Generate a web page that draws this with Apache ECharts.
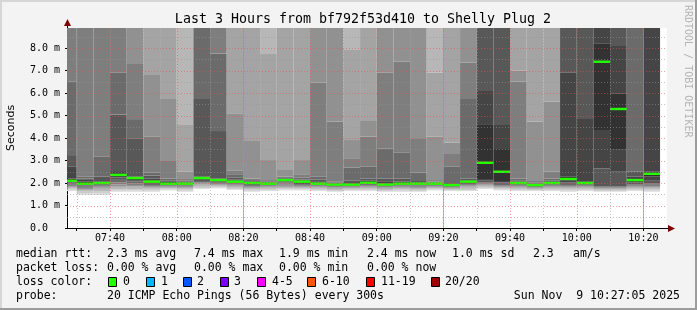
<!DOCTYPE html>
<html><head><meta charset="utf-8">
<script src="https://cdn.jsdelivr.net/npm/echarts@6/dist/echarts.min.js"></script>
<style>html,body{margin:0;padding:0;background:#f3f3f3}#c{width:697px;height:310px}</style>
</head><body><div id="c"></div>
<script>
// ---------- data ----------
const titleText = 'Last 3 Hours from bf792f53d410 to Shelly Plug 2';
const startTime = '07:27:05';
const endTime = '10:27:05';
const stepMinutes = 5;
const times = ['07:30','07:35','07:40','07:45','07:50','07:55','08:00','08:05','08:10','08:15','08:20','08:25','08:30','08:35','08:40','08:45','08:50','08:55','09:00','09:05','09:10','09:15','09:20','09:25','09:30','09:35','09:40','09:45','09:50','09:55','10:00','10:05','10:10','10:15','10:20','10:25'];
const medians = [2.10,1.97,2.00,2.36,2.22,2.06,1.97,1.97,2.22,2.13,2.06,2.00,1.97,2.13,2.06,1.97,1.93,1.93,2.01,1.93,1.97,1.97,1.97,1.91,2.06,2.90,2.50,2.00,1.91,2.00,2.18,2.00,7.39,5.29,2.13,2.41];
const lossPerStep = [0,0,0,0,0,0,0,0,0,0,0,0,0,0,0,0,0,0,0,0,0,0,0,0,0,0,0,0,0,0,0,0,0,0,0,0];
// 20 sorted ping rtts (ms) per step
const pings = [
 [1.64,1.70,1.75,1.79,1.83,1.87,1.92,1.97,2.02,2.07,2.20,2.72,3.24,6.50,9.6,11.2,12.8,15.1,19.4,27.0],
 [1.47,1.55,1.62,1.68,1.73,1.78,1.83,1.88,1.92,1.95,2.06,2.14,2.20,2.28,9.3,10.7,12.9,16.2,21.5,33.0],
 [1.47,1.56,1.63,1.70,1.75,1.80,1.85,1.90,1.94,1.98,2.06,2.13,2.28,3.17,9.8,11.4,13.6,17.0,22.8,30.5],
 [1.61,1.66,1.72,1.79,1.86,1.94,2.02,2.14,2.25,2.32,2.40,2.53,5.05,6.90,9.5,10.9,12.6,15.8,20.3,28.7],
 [1.61,1.67,1.73,1.79,1.85,1.91,1.98,2.06,2.13,2.19,2.25,2.28,3.99,4.84,7.29,9.7,11.8,14.4,19.0,26.2],
 [1.61,1.66,1.71,1.76,1.81,1.86,1.91,1.96,2.00,2.04,2.10,2.20,2.33,2.47,4.06,6.80,10.1,12.5,16.3,24.0],
 [1.67,1.71,1.75,1.78,1.81,1.84,1.87,1.90,1.93,1.95,2.00,2.05,2.12,2.20,2.98,5.73,9.4,11.7,15.2,22.6],
 [1.61,1.66,1.71,1.75,1.79,1.83,1.87,1.90,1.93,1.95,1.99,2.02,2.05,2.10,2.18,2.50,4.58,10.3,13.9,20.1],
 [1.73,1.78,1.83,1.88,1.93,1.98,2.03,2.09,2.14,2.19,2.25,2.28,5.73,9.2,10.6,12.3,14.7,18.2,23.9,31.4],
 [1.76,1.80,1.84,1.88,1.92,1.96,2.00,2.04,2.08,2.11,2.16,2.20,4.31,7.76,9.9,11.5,13.8,17.4,22.1,29.6],
 [1.69,1.73,1.77,1.81,1.85,1.89,1.93,1.97,2.01,2.04,2.10,2.16,2.25,2.39,2.55,5.10,9.6,12.2,16.8,25.3],
 [1.61,1.66,1.71,1.75,1.79,1.83,1.87,1.91,1.95,1.98,2.01,2.04,2.08,2.13,2.20,3.87,9.4,11.9,15.5,23.1],
 [1.64,1.68,1.72,1.76,1.80,1.84,1.87,1.90,1.93,1.95,1.98,2.00,2.03,2.08,2.13,3.02,7.73,10.4,14.2,21.7],
 [1.67,1.72,1.77,1.82,1.87,1.92,1.97,2.02,2.07,2.11,2.15,2.16,2.18,2.22,2.28,2.58,9.5,12.0,16.1,24.4],
 [1.67,1.71,1.75,1.79,1.83,1.87,1.91,1.95,2.00,2.04,2.09,2.12,2.16,2.25,2.39,3.02,9.8,12.4,17.0,25.9],
 [1.64,1.68,1.72,1.76,1.80,1.84,1.87,1.90,1.93,1.95,2.02,2.08,2.16,2.28,6.47,9.3,10.8,13.5,18.6,27.2],
 [1.61,1.65,1.69,1.73,1.77,1.80,1.83,1.86,1.89,1.91,1.96,1.99,2.02,2.06,4.73,9.6,11.3,14.0,19.2,28.4],
 [1.64,1.68,1.72,1.75,1.78,1.81,1.84,1.87,1.89,1.91,1.96,2.00,2.10,2.68,3.07,3.91,7.94,10.2,13.6,20.8],
 [1.64,1.68,1.72,1.76,1.80,1.84,1.88,1.92,1.96,1.99,2.04,2.10,2.20,2.72,4.06,4.76,9.7,12.6,17.3,26.5],
 [1.61,1.65,1.69,1.73,1.77,1.80,1.83,1.86,1.89,1.91,1.97,2.05,2.20,3.54,6.90,9.4,11.1,13.9,18.8,27.7],
 [1.61,1.66,1.71,1.75,1.79,1.83,1.86,1.89,1.92,1.95,2.00,2.06,2.20,3.35,7.39,9.8,11.6,14.3,19.5,29.0],
 [1.61,1.65,1.70,1.74,1.78,1.82,1.86,1.89,1.92,1.95,2.00,2.03,2.09,2.46,3.96,9.2,10.9,13.1,17.7,25.4],
 [1.67,1.71,1.75,1.78,1.81,1.84,1.87,1.90,1.93,1.95,1.99,2.00,2.02,2.06,2.13,4.06,6.90,10.6,14.8,22.3],
 [1.64,1.67,1.70,1.73,1.76,1.79,1.82,1.85,1.87,1.89,1.93,1.96,2.00,2.72,3.29,3.79,9.9,12.7,17.6,26.8],
 [1.64,1.69,1.74,1.79,1.84,1.88,1.92,1.96,2.00,2.04,2.08,2.12,2.20,5.73,7.35,9.5,11.2,13.7,18.4,27.9],
 [1.73,1.77,1.81,1.85,1.89,1.93,1.97,2.03,2.10,2.18,4.58,6.09,9.1,10.4,12.1,14.6,18.1,23.5,29.0,36.4],
 [1.67,1.71,1.75,1.79,1.83,1.87,1.91,1.96,2.02,2.09,3.51,4.58,9.3,10.8,12.7,15.3,19.1,24.7,30.2,38.0],
 [1.64,1.68,1.72,1.76,1.80,1.84,1.88,1.92,1.95,1.98,2.03,2.07,2.12,2.20,6.50,6.99,9.6,12.3,16.9,25.0],
 [1.64,1.67,1.70,1.73,1.76,1.79,1.82,1.85,1.87,1.89,1.93,1.96,1.99,2.03,2.09,4.73,9.4,11.8,15.9,23.8],
 [1.64,1.68,1.72,1.76,1.80,1.84,1.88,1.92,1.95,1.98,2.02,2.05,2.10,2.20,2.50,5.61,9.7,12.1,16.4,24.6],
 [1.61,1.66,1.71,1.76,1.81,1.86,1.91,1.96,2.02,2.10,2.28,6.90,9.2,10.5,12.0,14.1,16.9,20.7,26.3,34.8],
 [1.64,1.68,1.72,1.76,1.80,1.84,1.87,1.90,1.94,1.97,2.06,4.84,9.3,10.7,12.4,14.5,17.5,21.4,27.1,35.9],
 [1.61,1.65,1.69,1.72,1.75,1.78,1.81,1.84,2.65,4.36,8.21,9.1,10.3,11.8,13.7,16.2,19.6,24.3,30.8,39.5],
 [1.61,1.65,1.69,1.72,1.75,1.78,1.81,1.84,2.50,3.51,5.99,8.09,9.4,10.9,12.8,15.3,18.7,23.2,29.4,37.6],
 [1.64,1.68,1.72,1.76,1.80,1.84,1.88,1.93,2.02,2.10,2.18,2.28,2.50,9.2,10.6,12.4,14.9,18.3,23.0,30.1],
 [1.61,1.66,1.71,1.76,1.81,1.86,1.92,1.99,2.10,2.30,2.50,9.1,10.2,11.6,13.4,15.8,19.0,23.5,29.7,38.2]
];
const yMax = 8.89;
const yTicks = [0,1,2,3,4,5,6,7,8];
const xLabelTimes = ['07:40','08:00','08:20','08:40','09:00','09:20','09:40','10:00','10:20'];
const xMinorTimes = ['07:30','07:50','08:10','08:30','08:50','09:10','09:30','09:50','10:10'];
const xHourLines = ['08:20','09:20','10:20'];
const lossLabels = ['0','1','2','3','4-5','6-10','11-19','20/20'];
const lossColors = ['#26ff00','#00b8ff','#0059ff','#7e00ff','#ff00ff','#ff5500','#ff0000','#a10000'];
const rttStats = ['2.3 ms avg','7.4 ms max','1.9 ms min','2.4 ms now','1.0 ms sd','2.3','am/s'];
const lossStats = ['0.00 % avg','0.00 % max','0.00 % min','0.00 % now'];
const probeText = '20 ICMP Echo Pings (56 Bytes) every 300s';
const dateText = 'Sun Nov  9 10:27:05 2025';

// ---------- helpers ----------
function toMin(s){const p=s.split(':').map(Number);return p[0]*60+p[1]+(p[2]||0)/60;}
const X_MIN = toMin(startTime), X_MAX = toMin(endTime);
const MONO = '"DejaVu Sans Mono", monospace';

const smokeData = times.map((t,i)=>[toMin(t)-stepMinutes,toMin(t)].concat(pings[i]));
const medianData = times.map((t,i)=>[toMin(t)-stepMinutes,toMin(t),medians[i],lossPerStep[i]]);
// grid: [kind, value]  kind 0 h-minor,1 h-major,2 v-minor,3 v-major,4 v-hour
const gridData = [];
for (let k=1;k<=17;k++){ const v=k/2; gridData.push([v%1===0?1:0, v]); }
xMinorTimes.forEach(t=>gridData.push([2,toMin(t)]));
xLabelTimes.forEach(t=>gridData.push([3,toMin(t)]));
xHourLines.forEach(t=>gridData.push([4,toMin(t)]));

function clipRect(r, cs){
  return echarts.graphic.clipRectByRect(r,{x:cs.x,y:cs.y,width:cs.width,height:cs.height});
}
function renderSmoke(params, api){
  const t0=api.value(0), t1=api.value(1);
  const children=[];
  for (let j=1;j<20;j++){
    const lo=api.value(j+1), hi=api.value(j+2);
    if (hi<=lo) continue;
    const a=api.coord([t0,hi]), b=api.coord([t1,lo]);
    const r=clipRect({x:a[0],y:a[1],width:b[0]-a[0],height:b[1]-a[1]},params.coordSys);
    if(!r) continue;
    const ibot=Math.min(j,20-j);
    const g=Math.floor(190/10*(10-ibot))+50;
    const c='rgb('+g+','+g+','+g+')';
    children.push({type:'rect',shape:r,style:{fill:c}});
  }
  return {type:'group',children};
}
function renderMedian(params, api){
  const t0=api.value(0), t1=api.value(1), m=api.value(2);
  const a=api.coord([t0,m]), b=api.coord([t1,m]);
  const r=clipRect({x:a[0],y:a[1]-1.2,width:b[0]-a[0],height:2.4},params.coordSys);
  if(!r) return null;
  return {type:'rect',shape:r,style:{fill:lossColors[api.value(3)]}};
}
function renderGrid(params, api){
  const kind=api.value(0), v=api.value(1), cs=params.coordSys;
  let x1,y1,x2,y2;
  if (kind<2){ const p=api.coord([X_MIN,v]); y1=y2=Math.round(p[1])+0.5; x1=cs.x; x2=cs.x+cs.width; }
  else { const p=api.coord([v,0]); x1=x2=Math.round(p[0])+0.5; y1=cs.y; y2=cs.y+cs.height; }
  let stroke, dash;
  if (kind===0||kind===2){ stroke='rgba(150,150,150,0.55)'; dash=[1,2]; }
  else if (kind===1||kind===3){ stroke='rgba(235,80,80,0.55)'; dash=[1,2]; }
  else { stroke='rgba(255,90,90,0.6)'; dash=null; }
  return {type:'line',shape:{x1,y1,x2,y2},style:{stroke,lineWidth:1,lineDash:dash}};
}

// legend graphics
const gfx=[];
function txt(x,y,text,size,opt){ gfx.push(Object.assign({type:'text',x,y,style:{text,font:size+'px '+MONO,fill:'#000',align:'left',verticalAlign:'middle'}},opt||{})); }
const LF=11.5;
txt(16,254,'median rtt:',LF);
[107,194,279,367,452,533,573].forEach((x,i)=>txt(x,254,rttStats[i],LF));
txt(16,268,'packet loss:',LF);
[107,194,279,367].forEach((x,i)=>txt(x,268,lossStats[i],LF));
txt(16,282,'loss color:',LF);
const swX=[108,146,183,220,257,307,366,431];
const lbX=[123,161,197,234,272,322,381,445];
lossLabels.forEach((l,i)=>{
  gfx.push({type:'rect',shape:{x:swX[i]+0.5,y:277.5,width:8,height:9},style:{fill:lossColors[i],stroke:'#000',lineWidth:1}});
  txt(lbX[i],282,l,LF);
});
txt(16,296,'probe:',LF);
txt(107,296,probeText,LF);
gfx.push({type:'text',x:680,y:296,style:{text:dateText,font:LF+'px '+MONO,fill:'#000',align:'right',verticalAlign:'middle'}});
// title
gfx.push({type:'text',x:363,y:20,style:{text:titleText,font:'13.3px '+MONO,fill:'#000',align:'center',verticalAlign:'middle'}});
// watermark
gfx.push({type:'text',x:688,y:5,rotation:-Math.PI/2,style:{text:'RRDTOOL / TOBI OETIKER',font:'10px '+MONO,fill:'#b4b4b4',align:'left',verticalAlign:'middle'}});
// axis extensions & arrows
gfx.push({type:'line',shape:{x1:67.5,y1:28,x2:67.5,y2:22},style:{stroke:'#000',lineWidth:1}});
gfx.push({type:'line',shape:{x1:667,y1:228.5,x2:670,y2:228.5},style:{stroke:'#000',lineWidth:1}});
gfx.push({type:'polygon',shape:{points:[[64,26],[71,26],[67.5,19]]},style:{fill:'#7f0000'}});
gfx.push({type:'polygon',shape:{points:[[668,225],[668,232],[675,228.5]]},style:{fill:'#7f0000'}});
// frame
gfx.push({type:'rect',shape:{x:0,y:0,width:697,height:2},style:{fill:'#d6d6d6'},z:-1});
gfx.push({type:'rect',shape:{x:0,y:0,width:2,height:310},style:{fill:'#d6d6d6'},z:-1});
gfx.push({type:'rect',shape:{x:695,y:0,width:2,height:310},style:{fill:'#9c9c9c'},z:-1});
gfx.push({type:'rect',shape:{x:0,y:308,width:697,height:2},style:{fill:'#9c9c9c'},z:-1});

const chart=echarts.init(document.getElementById('c'),null,{renderer:'canvas'});
chart.setOption({
  animation:false,
  backgroundColor:'#f3f3f3',
  grid:{left:67,top:28,width:600,height:200,show:true,backgroundColor:'#ffffff',borderWidth:0,containLabel:false,outerBoundsMode:'none'},
  xAxis:{type:'value',min:X_MIN,max:X_MAX,
    axisLine:{show:true,onZero:false,lineStyle:{color:'#000',width:1}},
    axisTick:{show:true,length:3,lineStyle:{color:'#000'},customValues:xMinorTimes.concat(xLabelTimes).map(toMin)},
    axisLabel:{customValues:xLabelTimes.map(toMin),margin:5,fontFamily:'DejaVu Sans Mono',fontSize:10,color:'#000',
      formatter:v=>{const h=Math.floor(v/60),m=Math.round(v-h*60);return String(h).padStart(2,'0')+':'+String(m).padStart(2,'0');}},
    splitLine:{show:false}},
  yAxis:{type:'value',min:0,max:yMax,
    name:'Seconds',nameLocation:'middle',nameGap:50,nameTextStyle:{fontFamily:'DejaVu Sans',fontSize:11,color:'#000'},
    axisLine:{show:true,lineStyle:{color:'#000',width:1}},
    axisTick:{show:true,length:2,customValues:yTicks,lineStyle:{color:'#000'}},
    axisLabel:{customValues:yTicks,align:'left',margin:37,fontFamily:'DejaVu Sans Mono',fontSize:10,color:'#000',
      formatter:v=>v===0?'0.0':v.toFixed(1)+' m'},
    splitLine:{show:false}},
  series:[
    {type:'custom',name:'smoke',data:smokeData,renderItem:renderSmoke,clip:true,z:2,encode:{x:[0,1],y:[2]}},
    {type:'custom',name:'median',data:medianData,renderItem:renderMedian,clip:true,z:3,encode:{x:[0,1],y:[2]}},
    {type:'custom',name:'grid',data:gridData,renderItem:renderGrid,clip:false,z:4,silent:true,encode:{x:[],y:[]}}
  ],
  graphic:gfx
});
</script></body></html>
